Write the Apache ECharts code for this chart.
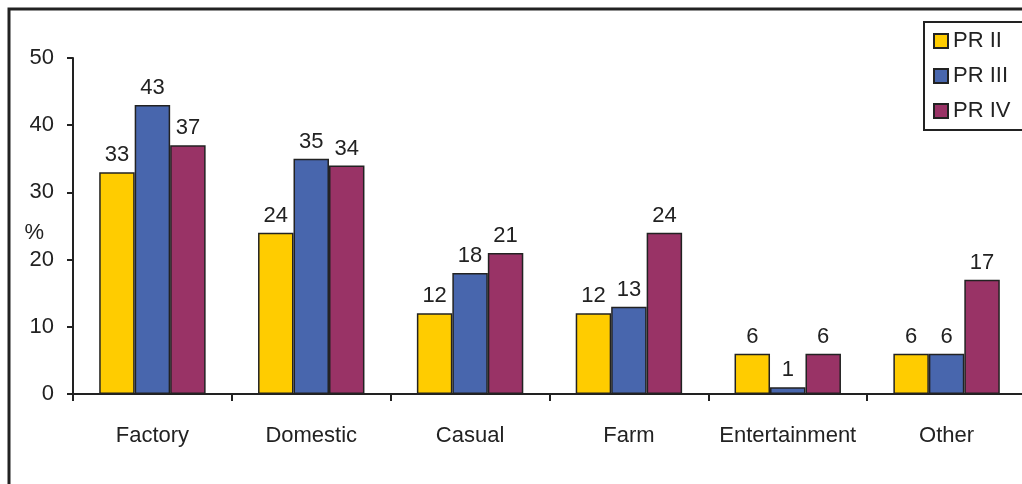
<!DOCTYPE html>
<html>
<head>
<meta charset="utf-8">
<script src="https://cdn.jsdelivr.net/npm/echarts@6/dist/echarts.min.js"></script>
<style>
  html, body { margin: 0; padding: 0; background: #fff; }
  #chart { width: 1022px; height: 484px; }
</style>
</head>
<body>
<div id="chart"></div>
<script>
const categories = ['Factory', 'Domestic', 'Casual', 'Farm', 'Entertainment', 'Other'];
const prII = [33, 24, 12, 12, 6, 6];
const prIII = [43, 35, 18, 13, 1, 6];
const prIV = [37, 34, 21, 24, 6, 17];

const font = "'Liberation Sans', Arial, sans-serif";
const ink = '#222';

const chart = echarts.init(document.getElementById('chart'));

const makeSeries = (name, data, color) => ({
  name: name,
  type: 'bar',
  data: data,
  barGap: 0,
  barCategoryGap: '33%',
  itemStyle: { color: color, borderColor: ink, borderWidth: 1.5 },
  label: {
    show: true,
    position: 'top',
    distance: 6,
    color: ink,
    fontSize: 22,
    fontFamily: font
  }
});

let option = {
  animation: false,
  backgroundColor: '#fff',
  textStyle: { fontFamily: font },
  graphic: [
    {
      type: 'rect',
      shape: { x: 9, y: 9, width: 1100, height: 600 },
      style: { fill: 'none', stroke: ink, lineWidth: 3 },
      silent: true
    }
  ],
  grid: {
    left: 73,
    top: 58,
    width: 953,
    height: 336,
    outerBoundsMode: 'none'
  },
  legend: {
    orient: 'vertical',
    left: 924,
    top: 22,
    padding: [8, 60, 8, 9],
    itemGap: 13,
    itemWidth: 14,
    itemHeight: 14,
    itemTextGap: 7,
    icon: 'rect',
    borderColor: ink,
    borderWidth: 2,
    textStyle: { color: ink, fontSize: 22, fontFamily: font },
    data: ['PR II', 'PR III', 'PR IV']
  },
  xAxis: {
    type: 'category',
    data: categories,
    axisLine: { lineStyle: { color: ink, width: 2 } },
    axisTick: { show: true, length: 7, lineStyle: { color: ink, width: 2 } },
    axisLabel: { color: ink, fontSize: 22, fontFamily: font, margin: 31, interval: 0 }
  },
  yAxis: {
    type: 'value',
    min: 0,
    max: 50,
    interval: 10,
    name: '%',
    nameLocation: 'middle',
    nameRotate: 0,
    nameGap: 29,
    nameMoveOverlap: false,
    nameTextStyle: { color: ink, fontSize: 22, fontFamily: font, verticalAlign: 'top', lineHeight: 14 },
    splitLine: { show: false },
    axisLine: { show: true, lineStyle: { color: ink, width: 2 } },
    axisTick: { show: true, length: 6, lineStyle: { color: ink, width: 2 } },
    axisLabel: { color: ink, fontSize: 22, fontFamily: font, margin: 19 }
  },
  series: [
    makeSeries('PR II', prII, '#FFCC00'),
    makeSeries('PR III', prIII, '#4866AD'),
    makeSeries('PR IV', prIV, '#993366')
  ]
};

chart.setOption(option);
</script>
</body>
</html>
